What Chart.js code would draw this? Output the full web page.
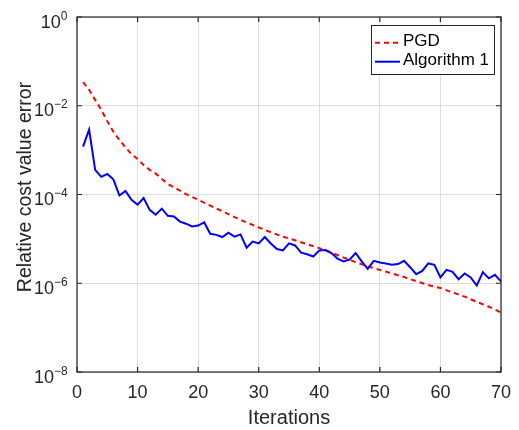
<!DOCTYPE html>
<html>
<head>
<meta charset="utf-8">
<script src="https://cdn.jsdelivr.net/npm/chart.js@4.4.1/dist/chart.umd.min.js"></script>
<style>
  body { margin: 0; background: #fff; }
  canvas { display: block; }
</style>
</head>
<body>
<canvas id="costChart" width="519" height="430"></canvas>
<script>
// values
const pgdIter = [1, 2, 3, 4, 5, 6, 7, 8, 9, 10, 11, 12, 13, 14, 15, 16, 17, 18, 20, 22, 24, 26, 28, 30, 32, 34, 36, 38, 40, 42, 44, 46, 48, 50, 52, 54, 56, 58, 60, 62, 64, 66, 68, 70];
const pgdError = [3.4e-2, 2.3e-2, 1.35e-2, 8.1e-3, 4.5e-3, 2.6e-3, 1.7e-3, 1.15e-3, 8.1e-4, 6.3e-4, 4.6e-4, 3.6e-4, 2.95e-4, 2.24e-4, 1.74e-4, 1.45e-4, 1.23e-4, 1.02e-4, 7.6e-5, 5.6e-5, 4.2e-5, 3.1e-5, 2.35e-5, 1.82e-5, 1.41e-5, 1.12e-5, 9.3e-6, 7.6e-6, 6.2e-6, 4.9e-6, 3.8e-6, 3.0e-6, 2.4e-6, 2.0e-6, 1.66e-6, 1.38e-6, 1.12e-6, 9.1e-7, 7.8e-7, 6.2e-7, 5.0e-7, 3.8e-7, 2.95e-7, 2.2e-7];

const algIter = [1, 2, 3, 4, 5, 6, 7, 8, 9, 10, 11, 12, 13, 14, 15, 16, 17, 18, 19, 20, 21, 22, 23, 24, 25, 26, 27, 28, 29, 30, 31, 32, 33, 34, 35, 36, 37, 38, 39, 40, 41, 42, 43, 44, 45, 46, 47, 48, 49, 50, 51, 52, 53, 54, 55, 56, 57, 58, 59, 60, 61, 62, 63, 64, 65, 66, 67, 68, 69, 70];
const algError = [1.2e-3, 2.9e-3, 3.6e-4, 2.5e-4, 2.9e-4, 2.2e-4, 9.5e-5, 1.2e-4, 7.6e-5, 5.9e-5,
    8.3e-5, 4.5e-5, 3.5e-5, 4.8e-5, 3.3e-5, 3.2e-5, 2.45e-5, 2.2e-5, 1.9e-5, 2.0e-5,
    2.35e-5, 1.3e-5, 1.23e-5, 1.1e-5, 1.38e-5, 1.12e-5, 1.26e-5, 6.3e-6, 8.7e-6, 7.9e-6,
    1.1e-5, 7.9e-6, 5.9e-6, 5.5e-6, 7.9e-6, 7.1e-6, 4.9e-6, 4.5e-6, 4.0e-6, 5.5e-6,
    5.6e-6, 4.8e-6, 3.6e-6, 3.1e-6, 3.4e-6, 4.8e-6, 3.1e-6, 2.1e-6, 3.2e-6, 2.95e-6,
    2.8e-6, 2.6e-6, 2.7e-6, 3.2e-6, 2.3e-6, 1.6e-6, 1.9e-6, 2.8e-6, 2.6e-6, 1.35e-6,
    2.0e-6, 1.8e-6, 1.23e-6, 1.66e-6, 1.35e-6, 8.9e-7, 1.78e-6, 1.29e-6, 1.55e-6, 1.1e-6];

const seriesNames = ["PGD", "Algorithm 1"];
const xTicks = [0, 10, 20, 30, 40, 50, 60, 70];
const yTicks = [1e-8, 1e-6, 1e-4, 1e-2, 1];
const xTitle = "Iterations";
const yTitle = "Relative cost value error";

const FONT = "'Liberation Sans', Arial, Helvetica, sans-serif";
const INK = "#262626";
const GRID = "#dfdfdf";

// MATLAB-style box, inward ticks, tick labels, titles and legend
const matlabAxes = {
    id: "matlabAxes",
    afterDraw(chart) {
        const ctx = chart.ctx;
        const a = chart.chartArea;
        const xs = chart.scales.x;
        const ys = chart.scales.y;

        ctx.save();
        ctx.strokeStyle = INK;
        ctx.lineWidth = 1.2;
        ctx.strokeRect(a.left, a.top, a.right - a.left, a.bottom - a.top);

        ctx.beginPath();
        xTicks.forEach(v => {
            const x = xs.getPixelForValue(v);
            ctx.moveTo(x, a.bottom); ctx.lineTo(x, a.bottom - 5);
            ctx.moveTo(x, a.top); ctx.lineTo(x, a.top + 5);
        });
        yTicks.forEach(v => {
            const y = ys.getPixelForValue(v);
            ctx.moveTo(a.left, y); ctx.lineTo(a.left + 5, y);
            ctx.moveTo(a.right, y); ctx.lineTo(a.right - 5, y);
        });
        ctx.stroke();

        ctx.fillStyle = INK;
        ctx.textBaseline = "alphabetic";

        // x tick labels
        ctx.font = "18px " + FONT;
        ctx.textAlign = "center";
        xTicks.forEach(v => ctx.fillText(String(v), xs.getPixelForValue(v), 398));

        // y tick labels as 10^n
        ctx.textAlign = "left";
        yTicks.forEach(v => {
            const y = ys.getPixelForValue(v);
            const e = Math.round(Math.log10(v));
            const x0 = e === 0 ? 40.7 : 34;
            ctx.font = "18px " + FONT;
            ctx.fillText("10", x0, y + 10.7);
            const w = ctx.measureText("10").width;
            ctx.font = "12px " + FONT;
            ctx.fillText(e < 0 ? "\u2212" + (-e) : String(e), x0 + w, y + 2.7);
        });

        // axis titles
        ctx.font = "20px " + FONT;
        ctx.textAlign = "center";
        ctx.fillText(xTitle, (a.left + a.right) / 2, 424);
        ctx.font = "19.5px " + FONT;
        ctx.translate(31, 187);
        ctx.rotate(-Math.PI / 2);
        ctx.fillText(yTitle, 0, 0);
        ctx.restore();

        // legend
        ctx.save();
        ctx.fillStyle = "#fff";
        ctx.fillRect(371, 25, 123, 49);
        ctx.strokeStyle = INK;
        ctx.lineWidth = 1;
        ctx.strokeRect(371.5, 25.5, 123, 49);
        const rows = [42.7, 61.7];
        chart.data.datasets.forEach((ds, i) => {
            ctx.beginPath();
            ctx.strokeStyle = ds.borderColor;
            ctx.lineWidth = ds.borderWidth;
            ctx.setLineDash(ds.borderDash || []);
            ctx.moveTo(375, rows[i]);
            ctx.lineTo(400, rows[i]);
            ctx.stroke();
            ctx.setLineDash([]);
            ctx.fillStyle = "#000";
            ctx.font = "17px " + FONT;
            ctx.textAlign = "left";
            ctx.fillText(ds.label, 403, rows[i] + 3.4);
        });
        ctx.restore();
    }
};

const ctx = document.getElementById("costChart").getContext("2d");
const chart = new Chart(ctx, {
    type: "line",
    data: {
        datasets: [
            {
                label: seriesNames[0],
                data: pgdIter.map((it, i) => ({ x: it, y: pgdError[i] })),
                borderColor: "#ff0000",
                borderWidth: 2,
                borderDash: [5, 4],
                pointRadius: 0,
                tension: 0,
                order: 1
            },
            {
                label: seriesNames[1],
                data: algIter.map((it, i) => ({ x: it, y: algError[i] })),
                borderColor: "#0000ff",
                borderWidth: 2,
                pointRadius: 0,
                tension: 0,
                order: 0
            }
        ]
    },
    options: {
        responsive: false,
        animation: false,
        devicePixelRatio: 1,
        layout: { padding: { left: 0, right: 18, top: 17, bottom: 0 } },
        plugins: { legend: { display: false }, tooltip: { enabled: false } },
        scales: {
            x: {
                type: "linear",
                min: 0,
                max: 70,
                ticks: { stepSize: 10, display: false },
                grid: { color: GRID, drawTicks: false },
                border: { display: false },
                afterFit: s => { s.height = 58; }
            },
            y: {
                type: "logarithmic",
                min: 1e-8,
                max: 1,
                ticks: { display: false },
                grid: { color: GRID, drawTicks: false },
                border: { display: false },
                afterBuildTicks: s => { s.ticks = yTicks.map(v => ({ value: v })); },
                afterFit: s => { s.width = 77; }
            }
        }
    },
    plugins: [matlabAxes]
});
</script>
</body>
</html>
